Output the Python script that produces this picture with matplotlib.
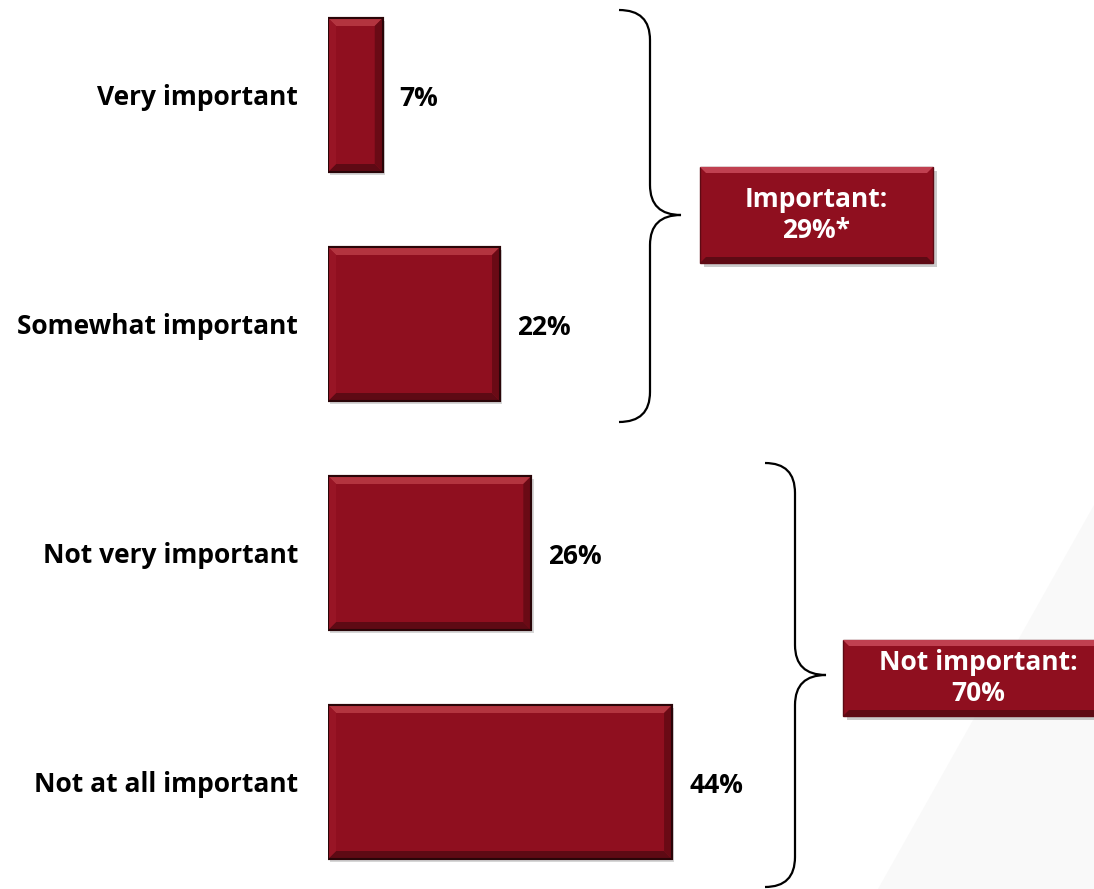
import matplotlib.pyplot as plt
from matplotlib.patches import Polygon, Rectangle, PathPatch
from matplotlib.path import Path

plt.rcParams['font.family'] = ['Open Sans', 'DejaVu Sans']

categories = ["Very important", "Somewhat important", "Not very important", "Not at all important"]
values = [7, 22, 26, 44]
group_labels = ["Important:\n29%*", "Not important:\n70%"]

RED = "#8f0f1f"
W, H = 1094, 889
FS = 19

fig = plt.figure(figsize=(W / 100, H / 100), dpi=100)

# overlay in pixel coords for background, braces and boxes
ov = fig.add_axes([0, 0, 1, 1])
ov.set_xlim(0, W)
ov.set_ylim(H, 0)
ov.axis("off")
ov.add_patch(Polygon([(1094, 505), (878, 889), (1094, 889)], closed=True,
                     facecolor="#f9f9f9", edgecolor="none", zorder=0))

# bar axes: 0% at x=328 px, 7.82 px per percent
px_per_pct = 7.82
left = 328
ax = fig.add_axes([left / W, 0, (W - left) / W, 1])
ax.patch.set_alpha(0)
ax.set_xlim(0, (W - left) / px_per_pct)
ax.set_ylim((H - 95) / 229, -95 / 229)
ax.axis("off")

ypos = list(range(len(categories)))
bh = 154 / 229
bars = ax.barh(ypos, values, height=bh, color=RED, edgecolor="#2a0508", linewidth=1.5, zorder=3)

bx = 8 / px_per_pct  # bevel width in data units
by = 8 / 229
for b, v, cat in zip(bars, values, categories):
    x0, y0 = b.get_x(), b.get_y()
    x1, y1 = x0 + b.get_width(), y0 + b.get_height()
    # drop shadow
    ax.add_patch(Rectangle((x0 + 0.3, y0 + 0.012), b.get_width(), b.get_height(),
                           facecolor="#bbbbbb", edgecolor="none", alpha=0.6, zorder=2))
    # bevels: top light, bottom dark, left light, right dark
    ax.add_patch(Polygon([(x0, y0), (x1, y0), (x1 - bx, y0 + by), (x0 + bx, y0 + by)],
                         facecolor="#b3343f", edgecolor="none", zorder=4))
    ax.add_patch(Polygon([(x0, y1), (x1, y1), (x1 - bx, y1 - by), (x0 + bx, y1 - by)],
                         facecolor="#5e0a14", edgecolor="none", zorder=4))
    ax.add_patch(Polygon([(x0, y0), (x0 + bx, y0 + by), (x0 + bx, y1 - by), (x0, y1)],
                         facecolor="#981525", edgecolor="none", zorder=4))
    ax.add_patch(Polygon([(x1, y0), (x1 - bx, y0 + by), (x1 - bx, y1 - by), (x1, y1)],
                         facecolor="#6a0a15", edgecolor="none", zorder=4))
    ax.add_patch(Rectangle((x0, y0), b.get_width(), b.get_height(), facecolor="none",
                           edgecolor="#2a0508", linewidth=1.5, zorder=5))
    ax.text(v + 17 / px_per_pct, b.get_y() + b.get_height() / 2 + 0.015, f"{v}%",
            ha="left", va="center", fontsize=FS, fontweight="bold", color="black")
    ax.text(-30 / px_per_pct, b.get_y() + b.get_height() / 2 + 0.01, cat,
            ha="right", va="center", fontsize=FS, fontweight="bold", color="black")


def brace(xs, xv, xt, ytop, ybot, ymid, r=30):
    verts = [(xs, ytop), (xv, ytop), (xv, ytop + r),
             (xv, ymid - r), (xv, ymid), (xt, ymid),
             (xv, ymid), (xv, ymid + r),
             (xv, ybot - r), (xv, ybot), (xs, ybot)]
    codes = [Path.MOVETO, Path.CURVE3, Path.CURVE3,
             Path.LINETO, Path.CURVE3, Path.CURVE3,
             Path.CURVE3, Path.CURVE3,
             Path.LINETO, Path.CURVE3, Path.CURVE3]
    ov.add_patch(PathPatch(Path(verts, codes), facecolor="none", edgecolor="black",
                           linewidth=1.6, zorder=3))


brace(619, 650, 681, 10, 422, 215)
brace(765, 795, 826, 463, 887, 675)


def box(x0, y0, w, h, text):
    ov.add_patch(Rectangle((x0 + 4, y0 + 4), w, h, facecolor="#999999", edgecolor="none",
                           alpha=0.5, zorder=2))
    ov.add_patch(Rectangle((x0, y0), w, h, facecolor=RED, edgecolor="#5e0a14",
                           linewidth=1.0, zorder=3))
    b = 6
    ov.add_patch(Polygon([(x0, y0), (x0 + w, y0), (x0 + w - b, y0 + b), (x0 + b, y0 + b)],
                         facecolor="#c04050", edgecolor="none", zorder=4))
    ov.add_patch(Polygon([(x0, y0 + h), (x0 + w, y0 + h), (x0 + w - b, y0 + h - b), (x0 + b, y0 + h - b)],
                         facecolor="#5e0a14", edgecolor="none", zorder=4))
    ov.text(x0 + w / 2, y0 + h / 2, text, ha="center", va="center", color="white",
            fontsize=FS, fontweight="bold", linespacing=1.2, zorder=5)


box(700, 167, 233, 96, group_labels[0])
box(843, 640, 270, 76, group_labels[1])

fig.savefig("out.png", dpi=100)
